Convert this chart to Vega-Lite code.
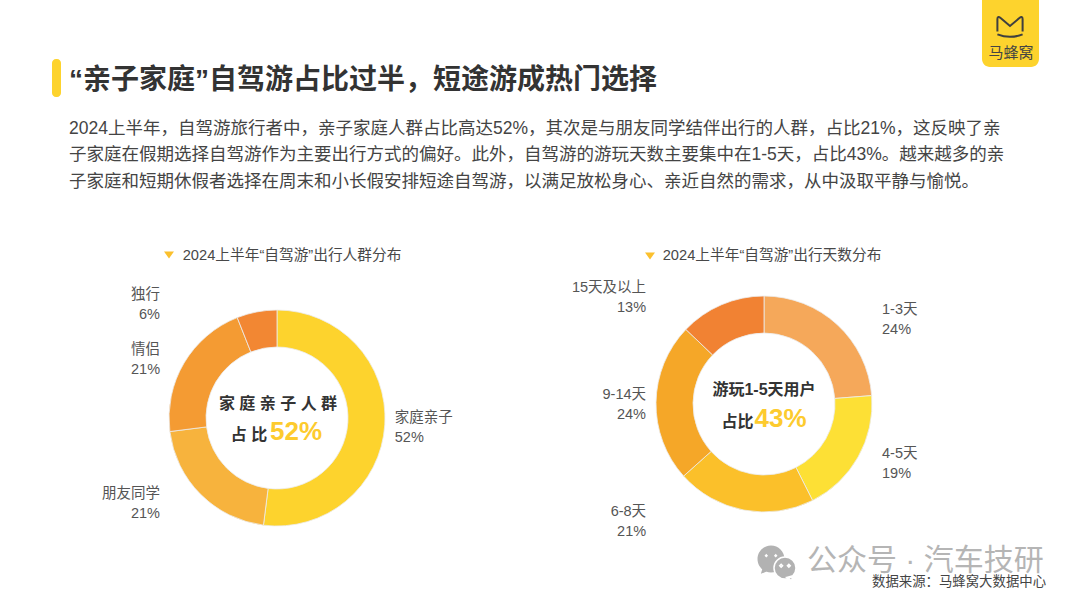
{
  "$schema": "https://vega.github.io/schema/vega-lite/v6.json",
  "padding": 0,
  "background": "#ffffff",
  "bounds": "flush",
  "spacing": 0,
  "config": {
    "view": { "stroke": null },
    "font": "Liberation Sans, Noto Sans CJK SC",
    "title": { "font": "Liberation Sans, Noto Sans CJK SC", "subtitleFont": "Liberation Sans, Noto Sans CJK SC" }
  },
  "vconcat": [
    {
      "width": 1080,
      "height": 240,
      "title": {
        "text": "“亲子家庭”自驾游占比过半\uFF0C短途游成热门选择",
        "subtitle": [
          "2024上半年\uFF0C自驾游旅行者中\uFF0C亲子家庭人群占比高达52%\uFF0C其次是与朋友同学结伴出行的人群\uFF0C占比21%\uFF0C这反映了亲",
          "子家庭在假期选择自驾游作为主要出行方式的偏好。此外\uFF0C自驾游的游玩天数主要集中在1-5天\uFF0C占比43%。越来越多的亲",
          "子家庭和短期休假者选择在周末和小长假安排短途自驾游\uFF0C以满足放松身心、亲近自然的需求\uFF0C从中汲取平静与愉悦。"
        ],
        "anchor": "start",
        "frame": "group",
        "orient": "top",
        "dx": 69,
        "offset": -190,
        "fontSize": 28,
        "fontWeight": "bold",
        "color": "#333333",
        "subtitleFontSize": 17.5,
        "subtitleColor": "#444444",
        "subtitleLineHeight": 26.5,
        "subtitlePadding": 25
      },
      "data": { "values": [ { "item": "decor" } ] },
      "layer": [
        {
          "mark": { "type": "rect", "color": "#fdd32d", "cornerRadius": 4 },
          "encoding": { "x": { "value": 52 }, "x2": { "value": 61 }, "y": { "value": 59 }, "y2": { "value": 97 } }
        },
        {
          "mark": { "type": "rect", "color": "#fdd32d", "cornerRadiusBottomLeft": 8, "cornerRadiusBottomRight": 8 },
          "encoding": { "x": { "value": 982 }, "x2": { "value": 1039 }, "y": { "value": 0 }, "y2": { "value": 67 } }
        },
        {
          "mark": {
            "type": "point",
            "shape": "M-0.9,0.4 L-0.9,-0.5 Q-0.9,-0.75 -0.65,-0.55 L0,0 L0.65,-0.55 Q0.9,-0.75 0.9,-0.5 L0.9,0.4 M-0.9,0.6 Q0,0.95 0.9,0.6",
            "filled": false,
            "stroke": "#3f3f3f",
            "strokeWidth": 2,
            "size": 784,
            "opacity": 1
          },
          "encoding": { "x": { "value": 1010 }, "y": { "value": 26 } }
        },
        {
          "mark": { "type": "text", "text": "马蜂窝", "fontSize": 15, "color": "#444444" },
          "encoding": { "x": { "value": 1011 }, "y": { "value": 53 } }
        },
        {
          "mark": { "type": "point", "shape": "M-1,-0.7 L1,-0.7 L0,0.7 Z", "filled": true, "color": "#fbc02d", "size": 100, "opacity": 1 },
          "encoding": { "x": { "value": 169 }, "y": { "value": 255 } }
        },
        {
          "mark": { "type": "point", "shape": "M-1,-0.7 L1,-0.7 L0,0.7 Z", "filled": true, "color": "#fbc02d", "size": 100, "opacity": 1 },
          "encoding": { "x": { "value": 650 }, "y": { "value": 256 } }
        },
        {
          "mark": {
            "type": "point",
            "shape": "M-1,0 C-1,-0.55 -0.55,-1 0,-1 C0.55,-1 1,-0.55 1,0 C1,0.55 0.55,1 0,1 C-0.55,1 -1,0.55 -1,0 Z M-0.48,-0.25 L-0.35,-0.12 L-0.22,-0.25 L-0.35,-0.38 Z M0.22,-0.25 L0.35,-0.12 L0.48,-0.25 L0.35,-0.38 Z M-0.15,0.85 L-0.75,1.1 L-0.6,0.6 Z",
            "filled": true,
            "color": "#b2b2b2",
            "size": 729,
            "opacity": 1
          },
          "encoding": { "x": { "value": 771 }, "y": { "value": 559 } }
        },
        {
          "mark": {
            "type": "point",
            "shape": "M-1,0 C-1,-0.55 -0.55,-1 0,-1 C0.55,-1 1,-0.55 1,0 C1,0.55 0.55,1 0,1 C-0.55,1 -1,0.55 -1,0 Z M-0.48,-0.2 L-0.35,-0.07 L-0.22,-0.2 L-0.35,-0.33 Z M0.22,-0.2 L0.35,-0.07 L0.48,-0.2 L0.35,-0.33 Z M0.15,0.85 L0.7,0.7 L0.6,1.15 Z",
            "filled": true,
            "fill": "#b2b2b2",
            "stroke": "#ffffff",
            "strokeWidth": 1.5,
            "size": 484,
            "opacity": 1
          },
          "encoding": { "x": { "value": 785 }, "y": { "value": 568 } }
        },
        {
          "mark": { "type": "text", "text": "公众号 · 汽车技研", "fontSize": 30, "color": "#b5b5b5", "align": "left", "baseline": "middle" },
          "encoding": { "x": { "value": 807 }, "y": { "value": 561 } }
        },
        {
          "mark": { "type": "text", "text": "数据来源\uFF1A马蜂窝大数据中心", "fontSize": 13.4, "color": "#444444", "align": "left", "baseline": "middle" },
          "encoding": { "x": { "value": 872 }, "y": { "value": 582 } }
        }
      ]
    },
    {
      "bounds": "flush",
      "spacing": 0,
      "resolve": { "scale": { "color": "independent", "theta": "independent" } },
      "hconcat": [
        {
          "width": 554,
          "height": 356,
          "title": {
            "text": "2024上半年“自驾游”出行人群分布",
            "anchor": "middle",
            "frame": "group",
            "dx": 15,
            "offset": -23,
            "fontSize": 14.7,
            "fontWeight": "normal",
            "color": "#484848"
          },
          "layer": [
            {
              "data": {
                "values": [
                  { "group": "家庭亲子", "share": 52, "rank": 1, "label": "家庭亲子\n52%" },
                  { "group": "朋友同学", "share": 21, "rank": 2, "label": "朋友同学\n21%" },
                  { "group": "情侣", "share": 21, "rank": 3, "label": "情侣\n21%" },
                  { "group": "独行", "share": 6, "rank": 4, "label": "独行\n6%" }
                ]
              },
              "layer": [
                {
                  "mark": { "type": "arc", "innerRadius": 71, "outerRadius": 108, "stroke": "#ececec", "strokeWidth": 0.8 },
                  "encoding": {
                    "theta": { "field": "share", "type": "quantitative", "stack": true },
                    "order": { "field": "rank" },
                    "color": {
                      "field": "group",
                      "type": "nominal",
                      "legend": null,
                      "scale": {
                        "domain": [ "家庭亲子", "朋友同学", "情侣", "独行" ],
                        "range": [ "#fdd32d", "#f7b33d", "#f49b33", "#f28733" ]
                      }
                    }
                  }
                },
                {
                  "mark": {
                    "type": "text",
                    "radius": 118,
                    "lineBreak": "\n",
                    "lineHeight": 20,
                    "fontSize": 14.5,
                    "baseline": "middle",
                    "color": "#555555",
                    "dy": -7.5,
                    "align": { "expr": "datum.rank == 1 ? 'left' : 'right'" },
                    "dx": { "expr": "[0, -33.6, -15.4, -94.9][datum.rank - 1]" }
                  },
                  "encoding": {
                    "theta": { "field": "share", "type": "quantitative", "stack": true },
                    "order": { "field": "rank" },
                    "text": { "field": "label" }
                  }
                }
              ]
            },
            {
              "data": { "values": [ { "line": "家 庭 亲 子 人 群" } ] },
              "mark": { "type": "text", "fontSize": 16, "fontWeight": "bold", "color": "#333333", "dx": 1, "dy": -14 },
              "encoding": { "text": { "field": "line" } }
            },
            {
              "data": { "values": [ { "line": "占 比" } ] },
              "mark": { "type": "text", "fontSize": 16, "fontWeight": "bold", "color": "#333333", "dx": -28, "dy": 17 },
              "encoding": { "text": { "field": "line" } }
            },
            {
              "data": { "values": [ { "line": "52%" } ] },
              "mark": { "type": "text", "fontSize": 26, "fontWeight": "bold", "color": "#fdcb2e", "dx": 19, "dy": 14 },
              "encoding": { "text": { "field": "line" } }
            }
          ]
        },
        {
          "width": 420,
          "height": 328,
          "title": {
            "text": "2024上半年“自驾游”出行天数分布",
            "anchor": "middle",
            "frame": "group",
            "dx": 8,
            "offset": -23,
            "fontSize": 14.7,
            "fontWeight": "normal",
            "color": "#484848"
          },
          "layer": [
            {
              "data": {
                "values": [
                  { "group": "1-3天", "share": 24, "rank": 1, "label": "1-3天\n24%" },
                  { "group": "4-5天", "share": 19, "rank": 2, "label": "4-5天\n19%" },
                  { "group": "6-8天", "share": 21, "rank": 3, "label": "6-8天\n21%" },
                  { "group": "9-14天", "share": 24, "rank": 4, "label": "9-14天\n24%" },
                  { "group": "15天及以上", "share": 13, "rank": 5, "label": "15天及以上\n13%" }
                ]
              },
              "layer": [
                {
                  "mark": { "type": "arc", "innerRadius": 71, "outerRadius": 108, "stroke": "#ececec", "strokeWidth": 0.8 },
                  "encoding": {
                    "theta": { "field": "share", "type": "quantitative", "stack": true },
                    "order": { "field": "rank" },
                    "color": {
                      "field": "group",
                      "type": "nominal",
                      "legend": null,
                      "scale": {
                        "domain": [ "1-3天", "4-5天", "6-8天", "9-14天", "15天及以上" ],
                        "range": [ "#f5a85a", "#fde035", "#fbc02a", "#f5a728", "#f18233" ]
                      }
                    }
                  }
                },
                {
                  "mark": {
                    "type": "text",
                    "radius": 118,
                    "lineBreak": "\n",
                    "lineHeight": 20,
                    "fontSize": 14.5,
                    "baseline": "middle",
                    "color": "#555555",
                    "dy": -7.5,
                    "align": { "expr": "datum.rank <= 2 ? 'left' : 'right'" },
                    "dx": { "expr": "[37.9, 15.2, -96, 0, -71.5][datum.rank - 1]" }
                  },
                  "encoding": {
                    "theta": { "field": "share", "type": "quantitative", "stack": true },
                    "order": { "field": "rank" },
                    "text": { "field": "label" }
                  }
                }
              ]
            },
            {
              "data": { "values": [ { "line": "游玩1-5天用户" } ] },
              "mark": { "type": "text", "fontSize": 16, "fontWeight": "bold", "color": "#333333", "dy": -14 },
              "encoding": { "text": { "field": "line" } }
            },
            {
              "data": { "values": [ { "line": "占比" } ] },
              "mark": { "type": "text", "fontSize": 16, "fontWeight": "bold", "color": "#333333", "dx": -26.5, "dy": 18 },
              "encoding": { "text": { "field": "line" } }
            },
            {
              "data": { "values": [ { "line": "43%" } ] },
              "mark": { "type": "text", "fontSize": 26, "fontWeight": "bold", "color": "#fdcb2e", "dx": 16.5, "dy": 15 },
              "encoding": { "text": { "field": "line" } }
            }
          ]
        }
      ]
    }
  ]
}
